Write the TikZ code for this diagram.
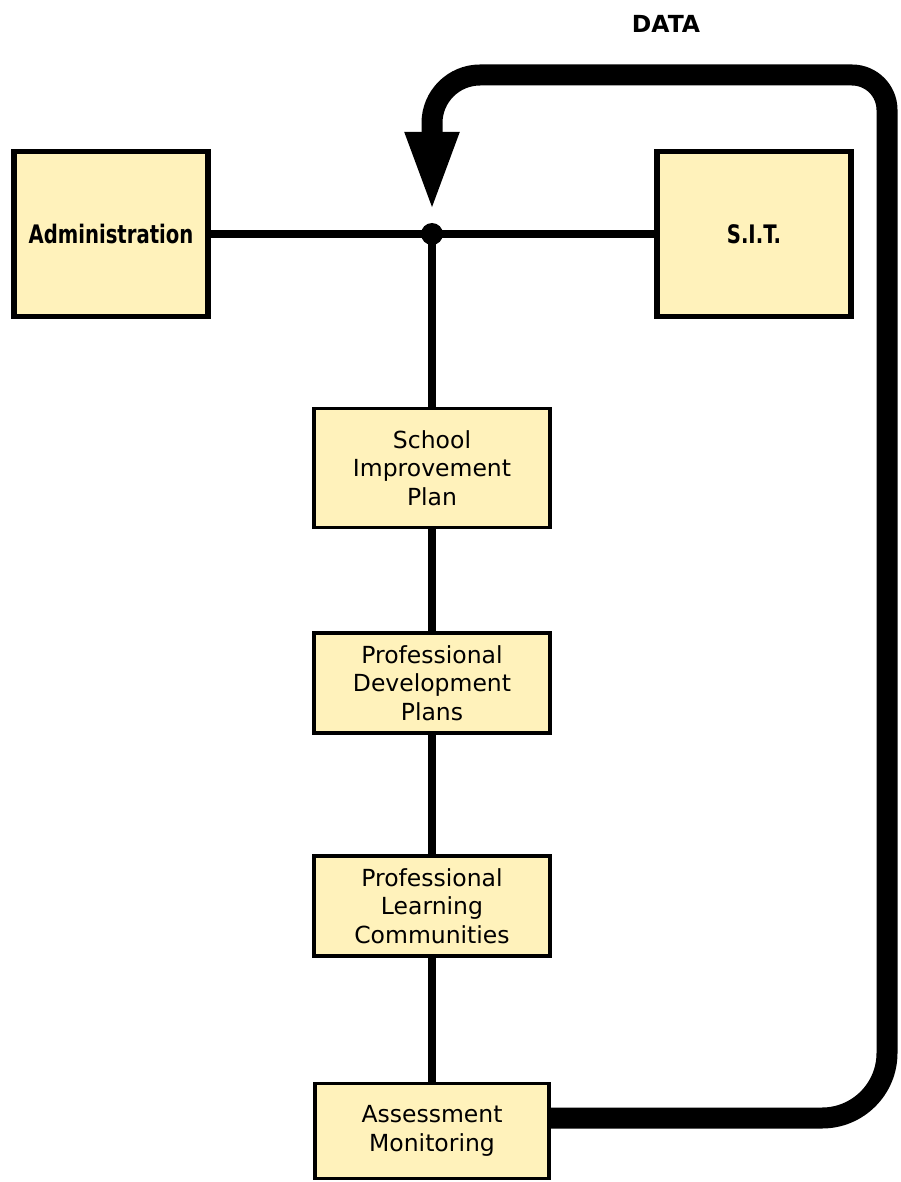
\documentclass[tikz,border=0pt]{standalone}
\usepackage{fontspec}
\setmainfont{DejaVu Sans}
\newfontfamily\condfont{DejaVu Sans}[FakeStretch=0.77]
\usetikzlibrary{arrows.meta}
\definecolor{boxyellow}{RGB}{255,242,187}

\begin{document}
\begin{tikzpicture}[x=1pt, y=-1pt,
	box/.style={draw, fill=boxyellow, line width=3.5pt, inner sep=0pt, align=center, minimum width=236pt, minimum height=100pt, font=\fontsize{23.5}{28.5}\selectfont},
	topbox/.style={box, line width=5.5pt, minimum width=194pt, minimum height=165pt, font=\condfont\bfseries\fontsize{25.5}{28}\selectfont},
	link/.style={line width=8pt},
	feedback/.style={line width=21pt, -{Triangle[width=48pt, length=82pt]}}]
	\useasboundingbox (0,0) rectangle (901,1182);
	\node[topbox] (admin) at (111,234) {Administration};
	\node[topbox] (sit) at (754,234) {S.I.T.};
	\node[box, minimum height=119pt] (sip) at (432,468) {School\\Improvement\\Plan};
	\node[box] (pdp) at (432,683) {Professional\\Development\\Plans};
	\node[box] (plc) at (432,906) {Professional\\Learning\\Communities};
	\node[box, minimum width=234pt, minimum height=95pt] (am) at (432,1131) {Assessment\\Monitoring};
	\node[font=\bfseries\fontsize{23.5}{28}\selectfont] (data) at (666,24) {DATA};
	\coordinate (junction) at (432,234);
	\coordinate (loopbottom) at (887,1118);
	\coordinate (looptop) at (887,75);
	\coordinate (loopleft) at (432,75);
	\coordinate (arrowtip) at (432,214);
	\draw[link] (admin) -- (sit);
	\draw[link] (junction) -- (sip) -- (pdp) -- (plc) -- (am);
	\fill (junction) circle[radius=11pt];
	\draw[feedback] ([yshift=13pt]am.east) [rounded corners=65pt] -- (loopbottom) [rounded corners=35pt] -- (looptop) [rounded corners=48pt] -- (loopleft) -- (arrowtip);
\end{tikzpicture}
\end{document}
